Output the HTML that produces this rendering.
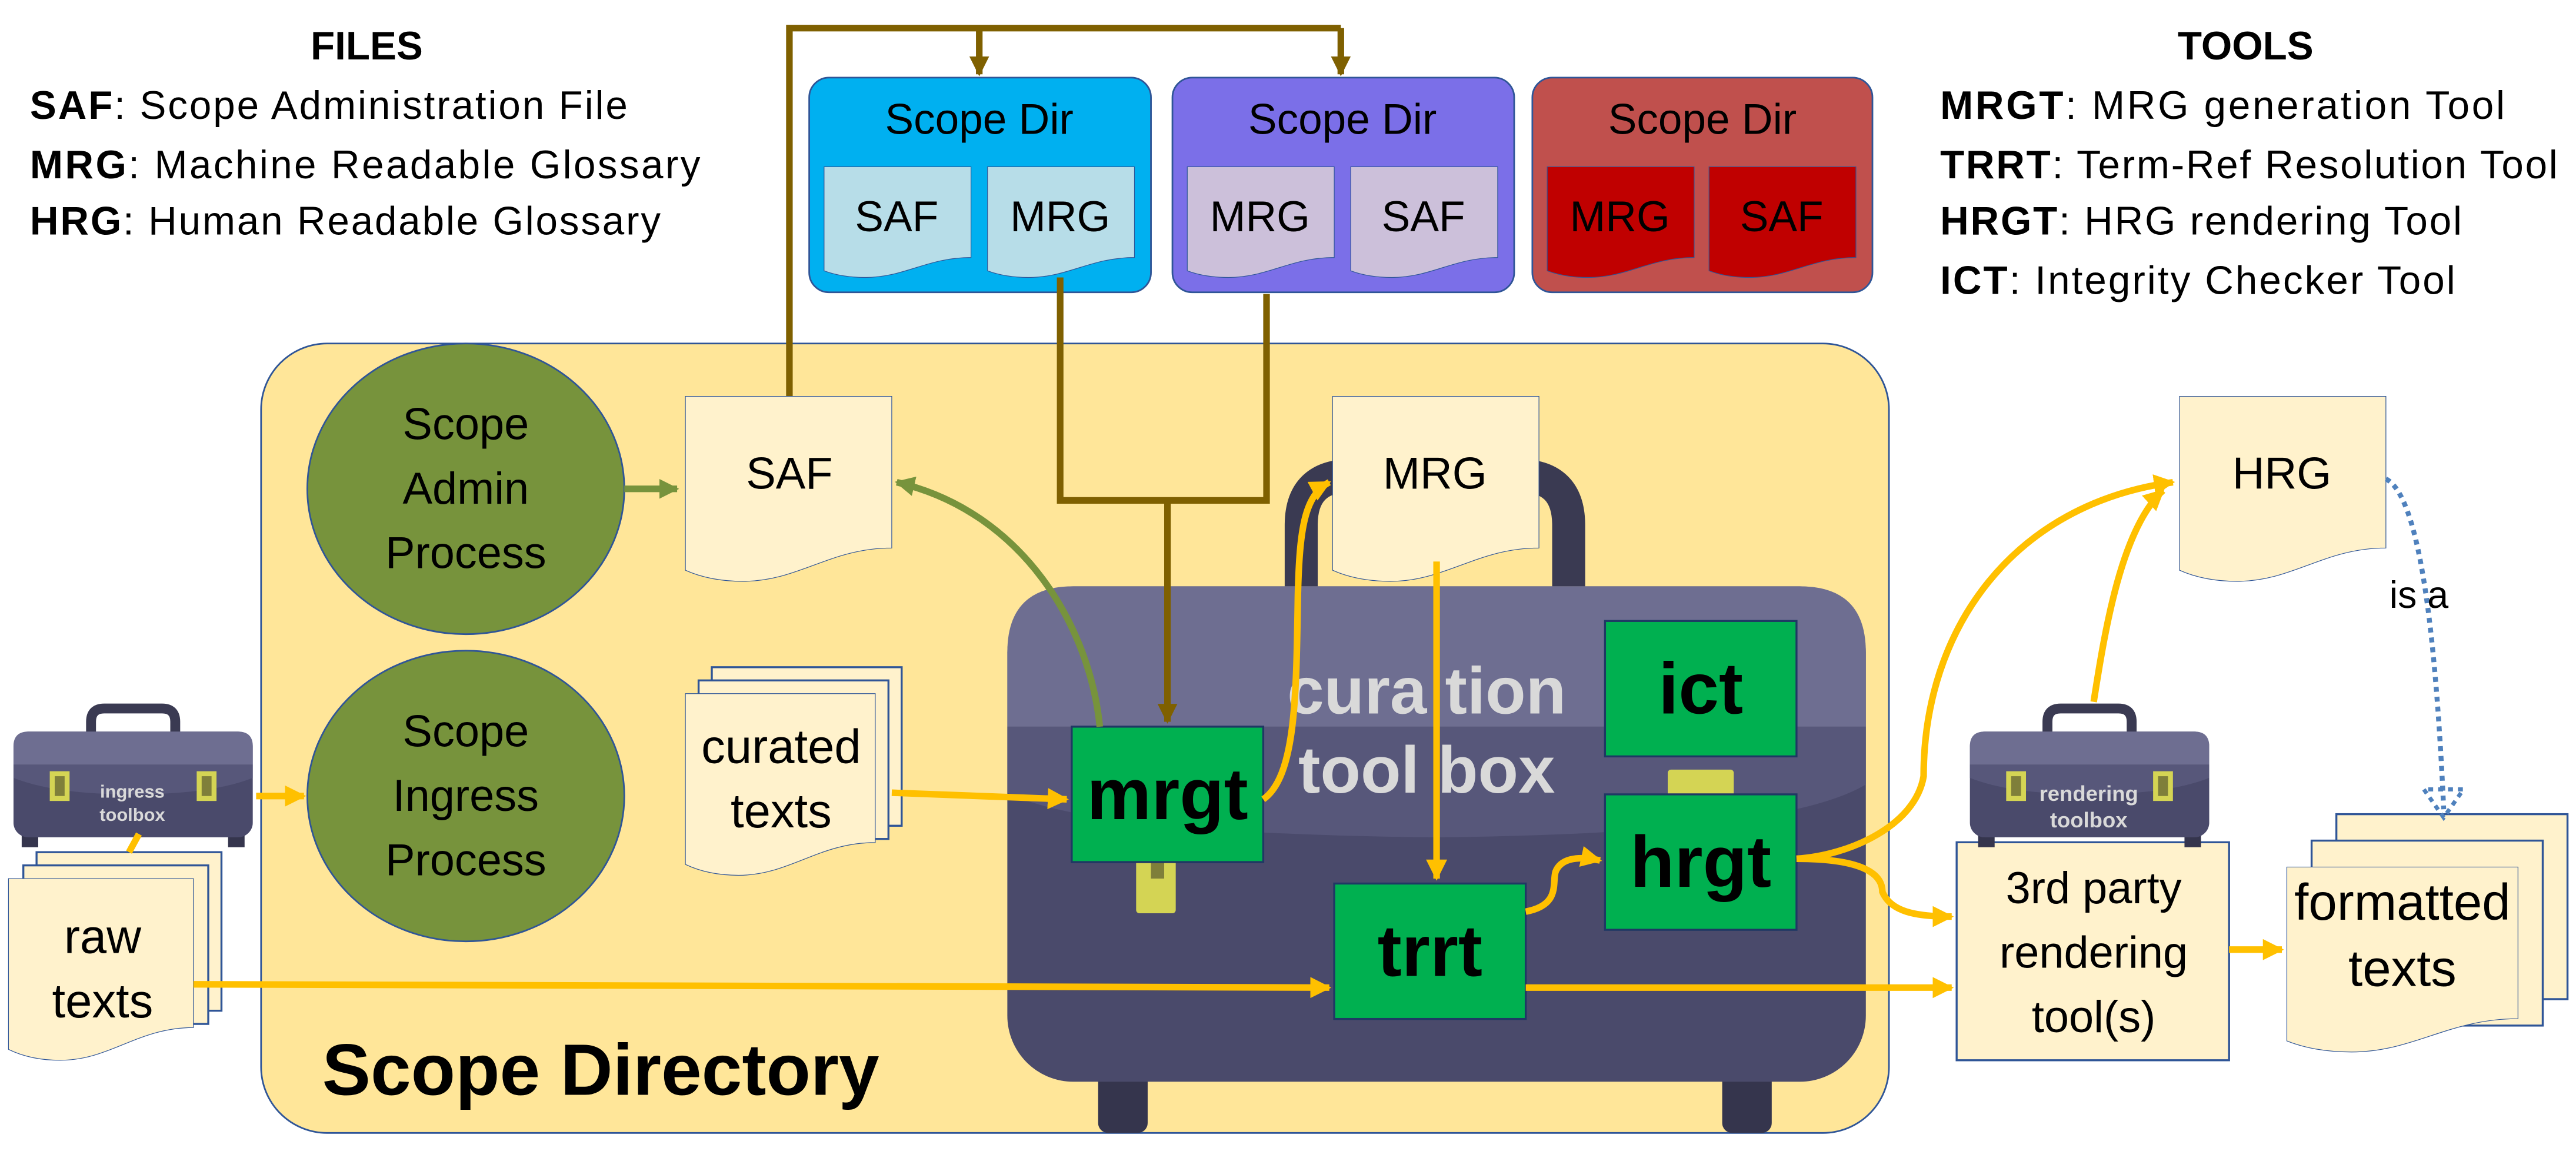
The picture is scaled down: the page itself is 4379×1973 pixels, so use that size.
<!DOCTYPE html>
<html><head><meta charset="utf-8"><style>
html,body{margin:0;padding:0;background:#fff}
svg{display:block}
text{font-family:"Liberation Sans",sans-serif}
</style></head><body>
<svg width="4379" height="1973" viewBox="0 0 1560 703" xmlns="http://www.w3.org/2000/svg">
<defs>
<symbol id="doc" viewBox="0 0 100 100" preserveAspectRatio="none" overflow="visible">
<path d="M0 0H100V82C70 82 55 100 28 100C15 100 6 97 0 94Z" vector-effect="non-scaling-stroke"/>
</symbol>
<symbol id="tb" viewBox="0 0 145 90" preserveAspectRatio="none">
<path d="M47 20V12Q47 4 55 4H90Q98 4 98 12V20" fill="none" stroke="#3a3a52" stroke-width="6"/>
<rect x="5" y="78" width="10" height="10" fill="#35354d"/><rect x="130" y="78" width="10" height="10" fill="#35354d"/>
<rect x="0" y="18" width="145" height="64" rx="9" fill="#4a4a6b"/>
<path d="M0 38V27Q0 18 9 18H136Q145 18 145 27V38Z" fill="#6e6e91"/>
<path d="M0 38H145V46Q120 56 72 56Q25 56 0 46Z" fill="#57577a"/>
<rect x="22" y="42" width="12" height="18" fill="#d4d454"/><rect x="25" y="45" width="6" height="12" fill="#7f7f3a"/>
<rect x="111" y="42" width="12" height="18" fill="#d4d454"/><rect x="114" y="45" width="6" height="12" fill="#7f7f3a"/>
</symbol>
<marker id="ay" viewBox="0 0 10 10" refX="9" refY="5" markerWidth="3.2" markerHeight="3.2" orient="auto"><path d="M0 0L10 5L0 10Z" fill="#ffc000"/></marker>
<marker id="ab" viewBox="0 0 10 10" refX="9" refY="5" markerWidth="3" markerHeight="3" orient="auto"><path d="M0 0L10 5L0 10Z" fill="#7f6000"/></marker>
<marker id="ag" viewBox="0 0 10 10" refX="9" refY="5" markerWidth="3" markerHeight="3" orient="auto"><path d="M0 0L10 5L0 10Z" fill="#77933c"/></marker>
</defs>

<!-- legends -->
<g font-size="24" fill="#000">
<text x="222" y="36" text-anchor="middle" font-weight="bold">FILES</text>
<text x="18" y="72" textLength="362"><tspan font-weight="bold">SAF</tspan>: Scope Administration File</text>
<text x="18" y="108" textLength="406"><tspan font-weight="bold">MRG</tspan>: Machine Readable Glossary</text>
<text x="18" y="142" textLength="382"><tspan font-weight="bold">HRG</tspan>: Human Readable Glossary</text>
<text x="1360" y="36" text-anchor="middle" font-weight="bold">TOOLS</text>
<text x="1175" y="72" textLength="342"><tspan font-weight="bold">MRGT</tspan>: MRG generation Tool</text>
<text x="1175" y="108" textLength="374"><tspan font-weight="bold">TRRT</tspan>: Term-Ref Resolution Tool</text>
<text x="1175" y="142" textLength="316"><tspan font-weight="bold">HRGT</tspan>: HRG rendering Tool</text>
<text x="1175" y="178" textLength="312"><tspan font-weight="bold">ICT</tspan>: Integrity Checker Tool</text>
</g>

<!-- scope dirs -->
<rect x="490" y="47" width="207" height="130" rx="12" fill="#00b0f0" stroke="#2f5597" stroke-width="1"/>
<rect x="710" y="47" width="207" height="130" rx="12" fill="#7b6fe8" stroke="#2f5597" stroke-width="1"/>
<rect x="928" y="47" width="206" height="130" rx="12" fill="#c0504d" stroke="#2f5597" stroke-width="1"/>
<g font-size="26" text-anchor="middle">
<text x="593" y="81">Scope Dir</text><text x="813" y="81">Scope Dir</text><text x="1031" y="81">Scope Dir</text>
</g>
<g stroke="#2f5597" stroke-width="1.2">
<use href="#doc" x="499" y="101" width="89" height="67" fill="#b7dde8"/>
<use href="#doc" x="598" y="101" width="89" height="67" fill="#b7dde8"/>
<use href="#doc" x="719" y="101" width="89" height="67" fill="#ccc0da"/>
<use href="#doc" x="818" y="101" width="89" height="67" fill="#ccc0da"/>
<use href="#doc" x="937" y="101" width="89" height="67" fill="#c00000"/>
<use href="#doc" x="1035" y="101" width="89" height="67" fill="#c00000"/>
</g>
<g font-size="26" text-anchor="middle">
<text x="543" y="140">SAF</text><text x="642" y="140">MRG</text>
<text x="763" y="140">MRG</text><text x="862" y="140">SAF</text>
<text x="981" y="140">MRG</text><text x="1079" y="140">SAF</text>
</g>

<!-- scope directory -->
<rect x="158" y="208" width="986" height="478" rx="40" fill="#ffe699" stroke="#2f5597" stroke-width="1"/>
<text x="195" y="663" font-size="44" font-weight="bold">Scope Directory</text>

<!-- brown lines -->
<g fill="none" stroke="#7f6000" stroke-width="4">
<path d="M478 240V17H812"/>
<path d="M593 17V45" marker-end="url(#ab)"/>
<path d="M812 17V45" marker-end="url(#ab)"/>
<path d="M642 168V303H767V178"/>
</g>

<!-- big toolbox -->
<path d="M788 355V318Q788 288 818 288H920Q950 288 950 318V355" fill="none" stroke="#3a3a52" stroke-width="20"/>
<rect x="665" y="640" width="30" height="46" rx="6" fill="#35354d"/>
<rect x="1043" y="640" width="30" height="46" rx="6" fill="#35354d"/>
<rect x="610" y="355" width="520" height="300" rx="40" fill="#4a4a6b"/>
<path d="M610 440V395Q610 355 650 355H1090Q1130 355 1130 395V440Z" fill="#6e6e91"/>
<path d="M610 440H1130V475Q1080 505 870 507Q660 505 610 480Z" fill="#57577a"/>
<rect x="688" y="520" width="24" height="33" rx="2" fill="#d4d454"/><rect x="697" y="520" width="8" height="12" fill="#7f7f3a"/>
<rect x="1010" y="466" width="40" height="18" rx="2" fill="#d4d454"/>
<g font-size="40" font-weight="bold" fill="#d9d9d9" text-anchor="middle">
<text x="864" y="432">cura tion</text><text x="864" y="480">tool box</text>
</g>

<path d="M707 303V437" fill="none" stroke="#7f6000" stroke-width="4" marker-end="url(#ab)"/>

<!-- ellipses -->
<ellipse cx="282" cy="296" rx="96" ry="88" fill="#77933c" stroke="#2f5597" stroke-width="1"/>
<ellipse cx="282" cy="482" rx="96" ry="88" fill="#77933c" stroke="#2f5597" stroke-width="1"/>
<g font-size="27" text-anchor="middle">
<text x="282" y="266">Scope</text><text x="282" y="305">Admin</text><text x="282" y="344">Process</text>
<text x="282" y="452">Scope</text><text x="282" y="491">Ingress</text><text x="282" y="530">Process</text>
</g>

<!-- docs -->
<g stroke="#2f5597" stroke-width="1.2" fill="#fff2cc">
<use href="#doc" x="415" y="240" width="125" height="112"/>
<use href="#doc" x="807" y="240" width="125" height="112"/>
<use href="#doc" x="1320" y="240" width="125" height="112"/>
<rect x="431" y="404" width="115" height="96"/>
<rect x="423" y="412" width="115" height="96"/>
<use href="#doc" x="415" y="420" width="115" height="110"/>
<rect x="22" y="516" width="112" height="96"/>
<rect x="14" y="524" width="112" height="96"/>
<use href="#doc" x="5" y="532" width="112" height="110"/>
<rect x="1415" y="493" width="140" height="112"/>
<rect x="1400" y="509" width="140" height="112"/>
<use href="#doc" x="1385" y="525" width="140" height="112"/>
<rect x="1185" y="510" width="165" height="132"/>
</g>
<g font-size="27" text-anchor="middle">
<text x="478" y="296">SAF</text>
<text x="869" y="296">MRG</text>
<text x="1382" y="296">HRG</text>
<text x="473" y="462" font-size="29">curated</text><text x="473" y="501" font-size="29">texts</text>
<text x="62" y="577" font-size="29">raw</text><text x="62" y="616" font-size="29">texts</text>
<text x="1455" y="557" font-size="31">formatted</text><text x="1455" y="597" font-size="31">texts</text>
<text x="1268" y="547">3rd party</text><text x="1268" y="586">rendering</text><text x="1268" y="625">tool(s)</text>
</g>

<!-- green tool boxes -->
<g fill="#00b050" stroke="#1f3864" stroke-width="1.2">
<rect x="649" y="440" width="116" height="82"/>
<rect x="972" y="376" width="116" height="82"/>
<rect x="972" y="481" width="116" height="82"/>
<rect x="808" y="535" width="116" height="82"/>
</g>
<g font-size="44" font-weight="bold" text-anchor="middle">
<text x="707" y="496">mrgt</text>
<text x="1030" y="432">ict</text>
<text x="1030" y="537">hrgt</text>
<text x="866" y="591">trrt</text>
</g>

<!-- small toolboxes -->
<use href="#tb" x="8" y="425" width="145" height="90"/>
<use href="#tb" x="1193" y="425" width="145" height="90"/>
<g font-size="11" font-weight="bold" fill="#d9d9d9" text-anchor="middle">
<text x="80" y="483">ingress</text><text x="80" y="497">toolbox</text>
<text x="1265" y="485" font-size="13">rendering</text><text x="1265" y="501" font-size="13">toolbox</text>
</g>

<!-- green arrows -->
<g fill="none" stroke="#77933c" stroke-width="4">
<path d="M378 296H410" marker-end="url(#ag)"/>
<path d="M666 440C660 380 620 310 543 292" marker-end="url(#ag)"/>
</g>

<!-- yellow arrows -->
<g fill="none" stroke="#ffc000" stroke-width="4">
<path d="M155 482H184" marker-end="url(#ay)"/>
<path d="M78 516L84 505"/>
<path d="M540 480L646 484" marker-end="url(#ay)"/>
<path d="M117 596L805 598" marker-end="url(#ay)"/>
<path d="M765 484C785 470 785 420 786 360C787 320 790 300 805 292" marker-end="url(#ay)"/>
<path d="M870 340V532" marker-end="url(#ay)"/>
<path d="M924 552C945 548 940 535 942 528C945 520 955 518 969 521" marker-end="url(#ay)"/>
<path d="M924 598H1182" marker-end="url(#ay)"/>
<path d="M1088 520C1120 518 1160 500 1165 470C1165 380 1220 305 1316 292" marker-end="url(#ay)"/>
<path d="M1088 520C1130 520 1140 530 1140 540C1145 552 1160 555 1182 555" marker-end="url(#ay)"/>
<path d="M1268 425C1275 380 1285 320 1310 297" marker-end="url(#ay)"/>
<path d="M1350 575L1382 575" marker-end="url(#ay)"/>
</g>

<!-- dotted is a -->
<path d="M1445 290C1465 300 1475 380 1480 490" fill="none" stroke="#4f81bd" stroke-width="3" stroke-dasharray="3 3"/>
<path d="M1468 478L1480 495L1492 478Z" fill="none" stroke="#4f81bd" stroke-width="2.5" stroke-dasharray="3 3"/>
<text x="1465" y="368" font-size="23" text-anchor="middle">is a</text>
</svg>
</body></html>
